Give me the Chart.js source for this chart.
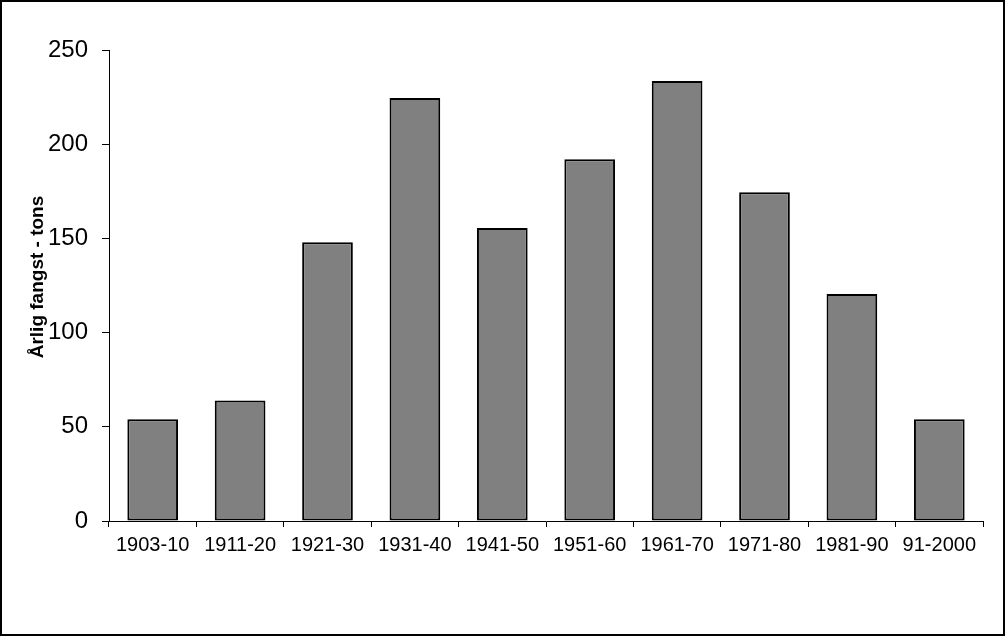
<!DOCTYPE html>
<html>
<head>
<meta charset="utf-8">
<script src="https://cdn.jsdelivr.net/npm/chart.js@4/dist/chart.umd.min.js"></script>
<style>
html,body{margin:0;padding:0;background:#fff;}
#wrap{width:1006px;height:637px;position:relative;}
</style>
</head>
<body>
<div id="wrap"><canvas id="c" width="1006" height="637"></canvas></div>
<script>
const categories = ["1903-10","1911-20","1921-30","1931-40","1941-50","1951-60","1961-70","1971-80","1981-90","91-2000"];
const catchValues = [54, 64, 148, 224.5, 155.5, 192, 233.5, 174.5, 120.5, 54];
const yTicks = [0, 50, 100, 150, 200, 250];
const yTitle = 'Årlig fangst - tons';

const frame = {
  id: 'frame',
  afterDraw(chart) {
    const ctx = chart.ctx;
    ctx.save();
    ctx.strokeStyle = '#000';
    ctx.lineWidth = 2;
    ctx.strokeRect(1, 1, 1003, 634);
    ctx.translate(38, 277);
    ctx.rotate(-Math.PI / 2);
    ctx.fillStyle = '#000';
    ctx.font = 'bold 19px "Liberation Sans", Arial';
    ctx.textAlign = 'center';
    ctx.textBaseline = 'middle';
    ctx.fillText(yTitle, 0, 0);
    ctx.restore();
  }
};

new Chart(document.getElementById('c'), {
  type: 'bar',
  data: {
    labels: categories,
    datasets: [{
      data: catchValues,
      backgroundColor: '#808080',
      borderColor: '#000',
      borderWidth: 2,
      borderSkipped: false,
      categoryPercentage: 1,
      barPercentage: 0.58
    }]
  },
  options: {
    responsive: false,
    animation: false,
    events: [],
    layout: { padding: { top: 50, right: 23, left: 0, bottom: 0 } },
    plugins: { legend: { display: false }, tooltip: { enabled: false } },
    scales: {
      x: {
        grid: { drawOnChartArea: false, drawTicks: true, tickLength: 6, color: '#000', offset: true },
        border: { color: '#000', width: 1 },
        ticks: { color: '#000', font: { family: '"Liberation Sans", Arial', size: 20 }, padding: 6, maxRotation: 0, autoSkip: false },
        afterFit(s) { s.height = 637 - 521; }
      },
      y: {
        min: 0, max: 250,
        afterBuildTicks(s) { s.ticks = yTicks.map(v => ({ value: v })); },
        grid: { drawOnChartArea: false, drawTicks: true, tickLength: 7, color: '#000' },
        border: { color: '#000', width: 1 },
        ticks: { color: '#000', font: { family: '"Liberation Sans", Arial', size: 24 }, padding: 14 },
        afterFit(s) { s.width = 109; }
      }
    }
  },
  plugins: [frame]
});
</script>
</body>
</html>
